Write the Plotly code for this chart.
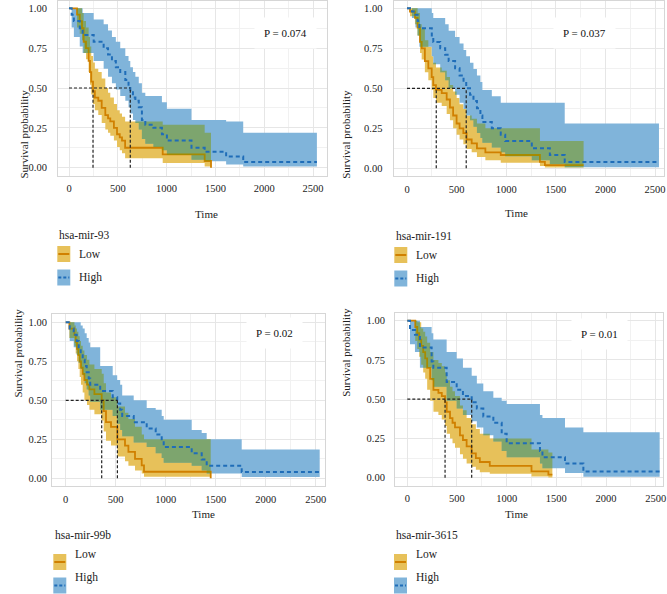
import plotly.graph_objects as go

W, H = 667, 594

# ---------------- data ----------------
genes = ["hsa-mir-93", "hsa-mir-191", "hsa-mir-99b", "hsa-mir-3615"]
p_texts = ["P = 0.074", "P = 0.037", "P = 0.02", "P = 0.01"]
groups = ["Low", "High"]
x_ticks = [0, 500, 1000, 1500, 2000, 2500]
y_ticks = [0.0, 0.25, 0.5, 0.75, 1.0]
x_title = "Time"
y_title = "Survival probability"

# panel 1 : hsa-mir-93
p1_low_t = [0, 82, 110, 133, 150, 174, 201, 215, 228, 246, 265, 300, 335, 372, 400, 423, 460, 492, 520, 543, 575, 960, 1390, 1455]
p1_low_s = [1.0, 0.96, 0.92, 0.875, 0.79, 0.75, 0.67, 0.6, 0.54, 0.48, 0.44, 0.42, 0.375, 0.33, 0.31, 0.29, 0.25, 0.21, 0.19, 0.17, 0.125, 0.083, 0.042, 0.0]
p1_low_lo = [1.0, 0.88, 0.84, 0.8, 0.72, 0.68, 0.6, 0.52, 0.46, 0.4, 0.36, 0.33, 0.28, 0.24, 0.22, 0.2, 0.17, 0.13, 0.11, 0.09, 0.06, 0.03, 0.008, 0.0]
p1_low_hi = [1.0, 1.0, 1.0, 0.97, 0.92, 0.88, 0.82, 0.76, 0.7, 0.66, 0.62, 0.6, 0.56, 0.5, 0.47, 0.44, 0.4, 0.36, 0.34, 0.32, 0.29, 0.27, 0.22, 0.0]
p1_low_end = 1455
p1_high_t = [0, 27, 50, 110, 140, 253, 355, 400, 440, 480, 525, 577, 610, 628, 655, 680, 715, 747, 782, 865, 952, 1003, 1255, 1390, 1610, 1785]
p1_high_s = [1.0, 0.96, 0.92, 0.875, 0.833, 0.79, 0.75, 0.71, 0.67, 0.63, 0.6, 0.55, 0.52, 0.48, 0.44, 0.42, 0.38, 0.3, 0.27, 0.25, 0.21, 0.17, 0.125, 0.1, 0.07, 0.035]
p1_high_lo = [1.0, 0.88, 0.82, 0.76, 0.72, 0.67, 0.62, 0.57, 0.53, 0.49, 0.45, 0.42, 0.38, 0.34, 0.3, 0.28, 0.24, 0.18, 0.15, 0.13, 0.11, 0.08, 0.05, 0.04, 0.02, 0.008]
p1_high_hi = [1.0, 1.0, 1.0, 1.0, 0.97, 0.93, 0.9, 0.86, 0.82, 0.79, 0.75, 0.7, 0.67, 0.63, 0.6, 0.57, 0.53, 0.47, 0.45, 0.45, 0.41, 0.37, 0.3, 0.3, 0.29, 0.22]
p1_high_end = 2540
p1_medians = [246, 628]

# panel 2 : hsa-mir-191
p2_low_t = [0, 30, 80, 107, 131, 148, 180, 215, 249, 265, 292, 350, 400, 433, 465, 500, 530, 568, 601, 652, 705, 790, 945, 1340, 1390]
p2_low_s = [1.0, 0.98, 0.94, 0.88, 0.79, 0.75, 0.67, 0.625, 0.57, 0.52, 0.49, 0.47, 0.43, 0.38, 0.33, 0.28, 0.25, 0.22, 0.18, 0.156, 0.125, 0.1, 0.083, 0.04, 0.02]
p2_low_lo = [1.0, 0.95, 0.9, 0.83, 0.72, 0.68, 0.6, 0.55, 0.49, 0.44, 0.41, 0.39, 0.34, 0.3, 0.25, 0.21, 0.18, 0.15, 0.12, 0.1, 0.07, 0.05, 0.035, 0.015, 0.005]
p2_low_hi = [1.0, 1.0, 1.0, 0.97, 0.9, 0.87, 0.8, 0.76, 0.7, 0.66, 0.63, 0.61, 0.57, 0.52, 0.48, 0.44, 0.4, 0.37, 0.33, 0.31, 0.28, 0.25, 0.25, 0.17, 0.17]
p2_low_end = 1780
p2_high_t = [0, 50, 85, 107, 125, 250, 265, 335, 385, 420, 485, 530, 570, 597, 635, 670, 705, 740, 760, 855, 945, 990, 1258, 1440, 1590]
p2_high_s = [1.0, 0.98, 0.96, 0.92, 0.875, 0.83, 0.79, 0.75, 0.71, 0.67, 0.625, 0.58, 0.54, 0.5, 0.46, 0.42, 0.375, 0.33, 0.29, 0.25, 0.21, 0.17, 0.125, 0.083, 0.04]
p2_high_lo = [1.0, 0.94, 0.88, 0.83, 0.76, 0.7, 0.65, 0.6, 0.55, 0.5, 0.46, 0.41, 0.37, 0.33, 0.3, 0.26, 0.22, 0.19, 0.16, 0.13, 0.1, 0.075, 0.05, 0.025, 0.007]
p2_high_hi = [1.0, 1.0, 1.0, 1.0, 1.0, 0.97, 0.94, 0.94, 0.9, 0.86, 0.82, 0.78, 0.74, 0.7, 0.66, 0.62, 0.58, 0.54, 0.49, 0.45, 0.41, 0.41, 0.41, 0.41, 0.28]
p2_high_end = 2540
p2_medians = [295, 597]

# panel 3 : hsa-mir-99b
p3_low_t = [0, 37, 87, 100, 113, 127, 140, 153, 170, 187, 213, 237, 287, 360, 380, 403, 453, 517, 593, 627, 693, 760, 783, 1450]
p3_low_s = [1.0, 0.96, 0.92, 0.875, 0.83, 0.79, 0.75, 0.71, 0.67, 0.63, 0.6, 0.57, 0.54, 0.5, 0.43, 0.36, 0.33, 0.25, 0.21, 0.17, 0.125, 0.083, 0.042, 0.0]
p3_low_lo = [1.0, 0.9, 0.85, 0.8, 0.75, 0.7, 0.65, 0.6, 0.55, 0.5, 0.47, 0.44, 0.41, 0.37, 0.3, 0.24, 0.21, 0.14, 0.11, 0.08, 0.05, 0.03, 0.01, 0.0]
p3_low_hi = [1.0, 1.0, 0.98, 0.96, 0.94, 0.91, 0.88, 0.85, 0.82, 0.79, 0.76, 0.73, 0.7, 0.67, 0.61, 0.55, 0.52, 0.46, 0.42, 0.38, 0.33, 0.28, 0.25, 0.0]
p3_low_end = 1450
p3_high_t = [0, 40, 80, 110, 130, 150, 170, 190, 210, 230, 245, 345, 470, 515, 545, 565, 680, 810, 900, 960, 980, 1260, 1360, 1410, 1760]
p3_high_s = [1.0, 0.96, 0.92, 0.88, 0.84, 0.8, 0.76, 0.72, 0.68, 0.64, 0.6, 0.56, 0.52, 0.48, 0.44, 0.4, 0.36, 0.32, 0.28, 0.24, 0.2, 0.16, 0.12, 0.08, 0.04]
p3_high_lo = [1.0, 0.88, 0.84, 0.79, 0.74, 0.7, 0.66, 0.61, 0.57, 0.53, 0.49, 0.44, 0.4, 0.35, 0.31, 0.27, 0.23, 0.2, 0.16, 0.13, 0.1, 0.08, 0.05, 0.03, 0.008]
p3_high_hi = [1.0, 1.0, 1.0, 1.0, 1.0, 0.98, 0.96, 0.93, 0.9, 0.87, 0.84, 0.72, 0.66, 0.63, 0.6, 0.53, 0.5, 0.45, 0.44, 0.4, 0.375, 0.31, 0.29, 0.25, 0.185]
p3_high_end = 2540
p3_medians = [360, 517]

# panel 4 : hsa-mir-3615
p4_low_t = [0, 80, 100, 120, 140, 160, 180, 200, 230, 263, 313, 347, 380, 397, 430, 455, 480, 530, 560, 597, 647, 690, 730, 830, 1250, 1420]
p4_low_s = [1.0, 0.96, 0.92, 0.88, 0.84, 0.8, 0.76, 0.7, 0.63, 0.56, 0.54, 0.52, 0.48, 0.42, 0.38, 0.35, 0.32, 0.27, 0.24, 0.2, 0.155, 0.125, 0.1, 0.075, 0.04, 0.02]
p4_low_lo = [1.0, 0.87, 0.82, 0.77, 0.72, 0.67, 0.63, 0.56, 0.49, 0.42, 0.4, 0.37, 0.33, 0.28, 0.25, 0.22, 0.19, 0.15, 0.12, 0.09, 0.07, 0.05, 0.035, 0.025, 0.008, 0.002]
p4_low_hi = [1.0, 1.0, 0.99, 0.99, 0.95, 0.93, 0.9, 0.86, 0.8, 0.75, 0.73, 0.71, 0.67, 0.62, 0.58, 0.55, 0.52, 0.46, 0.43, 0.38, 0.34, 0.31, 0.28, 0.25, 0.18, 0.16]
p4_low_end = 1460
p4_high_t = [0, 27, 77, 127, 245, 262, 396, 497, 560, 648, 700, 765, 866, 950, 1000, 1335, 1360, 1587, 1772]
p4_high_s = [1.0, 0.94, 0.91, 0.83, 0.74, 0.7, 0.61, 0.56, 0.52, 0.48, 0.44, 0.39, 0.35, 0.28, 0.22, 0.17, 0.13, 0.09, 0.04]
p4_high_lo = [1.0, 0.85, 0.8, 0.7, 0.62, 0.58, 0.49, 0.44, 0.4, 0.36, 0.32, 0.27, 0.23, 0.17, 0.13, 0.09, 0.06, 0.03, 0.006]
p4_high_hi = [1.0, 1.0, 1.0, 0.96, 0.92, 0.88, 0.8, 0.76, 0.7, 0.65, 0.6, 0.55, 0.51, 0.49, 0.47, 0.4, 0.38, 0.32, 0.29]
p4_high_end = 2540
p4_medians = [380, 648]

# ---------------- styling / layout (pixel geometry) ----------------
COL_YEL = "#E7C15A"
COL_BLU = "#80B4DA"
COL_OVL = "rgba(122,150,2,0.5)"
COL_ORA = "#D08000"
COL_DBL = "#1F6DB8"
FONT = "Liberation Serif"

# (t0px, t2500px, left, right, y1px, y0px, top, bottom)
geom = [
    (69.0, 313.0, 58.0, 327.0, 8.3, 167.7, 0.5, 175.5),
    (407.0, 655.0, 393.5, 664.0, 8.3, 168.3, 0.5, 176.0),
    (65.7, 315.7, 52.0, 325.0, 322.3, 478.3, 314.0, 486.0),
    (407.3, 655.7, 395.0, 663.0, 320.7, 477.7, 313.0, 485.5),
]
ystandoff = [8, 8, 2, 7]
ylab_x = [15, 346, 9, 346]
legend_x = [57.3, 394.3, 53.3, 394.0]
legend_y = [235, 236, 543, 543]
time_lab = [(193, 214), (530, 213), (190, 522), (530, 522)]
p_pos = [(285, 17), (616, 17), (274, 333), (628, 334)]

panels = [
    dict(low=(p1_low_t, p1_low_s, p1_low_lo, p1_low_hi, p1_low_end),
         high=(p1_high_t, p1_high_s, p1_high_lo, p1_high_hi, p1_high_end), med=p1_medians),
    dict(low=(p2_low_t, p2_low_s, p2_low_lo, p2_low_hi, p2_low_end),
         high=(p2_high_t, p2_high_s, p2_high_lo, p2_high_hi, p2_high_end), med=p2_medians),
    dict(low=(p3_low_t, p3_low_s, p3_low_lo, p3_low_hi, p3_low_end),
         high=(p3_high_t, p3_high_s, p3_high_lo, p3_high_hi, p3_high_end), med=p3_medians),
    dict(low=(p4_low_t, p4_low_s, p4_low_lo, p4_low_hi, p4_low_end),
         high=(p4_high_t, p4_high_s, p4_high_lo, p4_high_hi, p4_high_end), med=p4_medians),
]


def fx(x):
    return x / W


def fy(y):
    return 1 - y / H


def step_xy(t, v, t_end):
    xs, ys = [], []
    for i in range(len(t)):
        if i > 0:
            xs.append(t[i]); ys.append(v[i - 1])
        xs.append(t[i]); ys.append(v[i])
    xs.append(t_end); ys.append(v[-1])
    return xs, ys


def band_poly(t, lo, hi, t_end):
    xu, yu = step_xy(t, hi, t_end)
    xl, yl = step_xy(t, lo, t_end)
    return xu + xl[::-1] + [xu[0]], yu + yl[::-1] + [yu[0]]


def val_at(t, v, x):
    k = 0
    for i, ti in enumerate(t):
        if ti <= x:
            k = i
    return v[k]


def overlap_poly(a, b):
    ta, _, loa, hia, ea = a
    tb, _, lob, hib, eb = b
    end = min(ea, eb)
    grid = sorted(set([x for x in ta + tb if x < end])) + [end]
    runs, cur = [], []
    for k in range(len(grid) - 1):
        x0, x1 = grid[k], grid[k + 1]
        lo = max(val_at(ta, loa, x0), val_at(tb, lob, x0))
        hi = min(val_at(ta, hia, x0), val_at(tb, hib, x0))
        if hi > lo:
            cur.append((x0, x1, lo, hi))
        elif cur:
            runs.append(cur); cur = []
    if cur:
        runs.append(cur)
    xs, ys = [], []
    for r in runs:
        px_, py_ = [], []
        for (x0, x1, lo, hi) in r:
            px_ += [x0, x1]; py_ += [hi, hi]
        for (x0, x1, lo, hi) in reversed(r):
            px_ += [x1, x0]; py_ += [lo, lo]
        px_.append(px_[0]); py_.append(py_[0])
        if xs:
            xs.append(None); ys.append(None)
        xs += px_; ys += py_
    return xs, ys


fig = go.Figure()
layout = dict(template="none", width=W, height=H, margin=dict(l=0, r=0, t=0, b=0, autoexpand=False),
              paper_bgcolor="white", plot_bgcolor="white", showlegend=False,
              font=dict(family=FONT, size=11, color="#222222"))
shapes, annots = [], []

for i, p in enumerate(panels):
    sfx = "" if i == 0 else str(i + 1)
    xa, ya = "x" + sfx, "y" + sfx
    t0, t25, left, right, y1, y0, top, bottom = geom[i]
    ppx = (t25 - t0) / 2500.0
    xr = [-(t0 - left) / ppx, 2500 + (right - t25) / ppx]
    ppy = (y0 - y1)
    yr = [-(bottom - y0) / ppy, 1 + (y1 - top) / ppy]
    grid = dict(showgrid=True, gridcolor="#E6E6E6", gridwidth=1, zeroline=False, automargin=False,
                showline=True, mirror=True, linecolor="#D6D6D6", linewidth=1,
                ticks="", tickfont=dict(family=FONT, size=10.5, color="#222222"))
    layout["xaxis" + sfx] = dict(grid, domain=[fx(left), fx(right)], range=xr, anchor=ya,
                                 tickvals=x_ticks, ticklabelstandoff=3,
                                 minor=dict(tickvals=[250, 750, 1250, 1750, 2250], showgrid=True,
                                            gridcolor="#F1F1F1", gridwidth=0.6))
    layout["yaxis" + sfx] = dict(grid, domain=[fy(bottom), fy(top)], range=yr, anchor=xa,
                                 tickvals=y_ticks, tickformat=".2f", ticklabelstandoff=ystandoff[i],
                                 minor=dict(tickvals=[0.125, 0.375, 0.625, 0.875], showgrid=True,
                                            gridcolor="#F1F1F1", gridwidth=0.6))
    lt, ls, llo, lhi, lend = p["low"]
    ht, hs, hlo, hhi, hend = p["high"]
    bx, by = band_poly(lt, llo, lhi, lend)
    fig.add_trace(go.Scatter(x=bx, y=by, xaxis=xa, yaxis=ya, mode="lines", fill="toself",
                             fillcolor=COL_YEL, line=dict(width=0), hoverinfo="skip"))
    bx, by = band_poly(ht, hlo, hhi, hend)
    fig.add_trace(go.Scatter(x=bx, y=by, xaxis=xa, yaxis=ya, mode="lines", fill="toself",
                             fillcolor=COL_BLU, line=dict(width=0), hoverinfo="skip"))
    lx, ly = step_xy(lt, ls, lend)
    fig.add_trace(go.Scatter(x=lx, y=ly, xaxis=xa, yaxis=ya, mode="lines", name=groups[0],
                             line=dict(color=COL_ORA, width=1.8)))
    ox, oy = overlap_poly(p["low"], p["high"])
    fig.add_trace(go.Scatter(x=ox, y=oy, xaxis=xa, yaxis=ya, mode="lines", fill="toself",
                             fillcolor=COL_OVL, line=dict(width=0), hoverinfo="skip"))
    hx, hy = step_xy(ht, hs, hend)
    fig.add_trace(go.Scatter(x=hx, y=hy, xaxis=xa, yaxis=ya, mode="lines", name=groups[1],
                             line=dict(color=COL_DBL, width=2, dash="4px,3px")))
    # median lines
    med = p["med"]
    fig.add_trace(go.Scatter(x=[0, max(med)], y=[0.5, 0.5], xaxis=xa, yaxis=ya, mode="lines",
                             line=dict(color="#222222", width=1.2, dash="3px,2px"), hoverinfo="skip"))
    for m in med:
        fig.add_trace(go.Scatter(x=[m, m], y=[0, 0.5], xaxis=xa, yaxis=ya, mode="lines",
                                 line=dict(color="#222222", width=1.2, dash="3px,2px"), hoverinfo="skip"))
    # p value
    annots.append(dict(x=fx(p_pos[i][0]), y=fy(p_pos[i][1]), xref="paper", yref="paper",
                       text=p_texts[i], showarrow=False, bgcolor="white", borderpad=9,
                       font=dict(family=FONT, size=11, color="#111111")))
    # axis titles
    annots.append(dict(x=fx(time_lab[i][0]), y=fy(time_lab[i][1]), xref="paper", yref="paper",
                       text=x_title, showarrow=False, font=dict(family=FONT, size=11, color="#222222")))
    annots.append(dict(x=fx(ylab_x[i]), y=fy((top + bottom) / 2), xref="paper", yref="paper",
                       text=y_title, textangle=-90, showarrow=False,
                       font=dict(family=FONT, size=11, color="#222222")))
    # legend
    lx0 = legend_x[i]
    ly0 = legend_y[i]
    annots.append(dict(x=fx(lx0), y=fy(ly0), xref="paper", yref="paper", xanchor="left",
                       text=genes[i], showarrow=False, font=dict(family=FONT, size=11.5, color="#222222")))
    for j, (fc, lc, dsh) in enumerate([(COL_YEL, COL_ORA, "solid"), (COL_BLU, COL_DBL, "3px,2px")]):
        yc = ly0 + 19 + j * 23.5
        shapes.append(dict(type="rect", xref="paper", yref="paper", x0=fx(lx0), x1=fx(lx0 + 13),
                           y0=fy(yc - 8), y1=fy(yc + 8), fillcolor=fc, line=dict(width=0)))
        shapes.append(dict(type="line", xref="paper", yref="paper", x0=fx(lx0 + 1), x1=fx(lx0 + 12),
                           y0=fy(yc), y1=fy(yc), line=dict(color=lc, width=2, dash=dsh)))
        annots.append(dict(x=fx(lx0 + 20), y=fy(yc), xref="paper", yref="paper", xanchor="left",
                           text=groups[j], showarrow=False,
                           font=dict(family=FONT, size=11.5, color="#222222")))

layout["shapes"] = shapes
layout["annotations"] = annots
fig.update_layout(**layout)
fig.write_html("out.html", config={"displayModeBar": False},
               post_script="document.body.style.margin='0px';document.body.style.overflow='hidden';")
